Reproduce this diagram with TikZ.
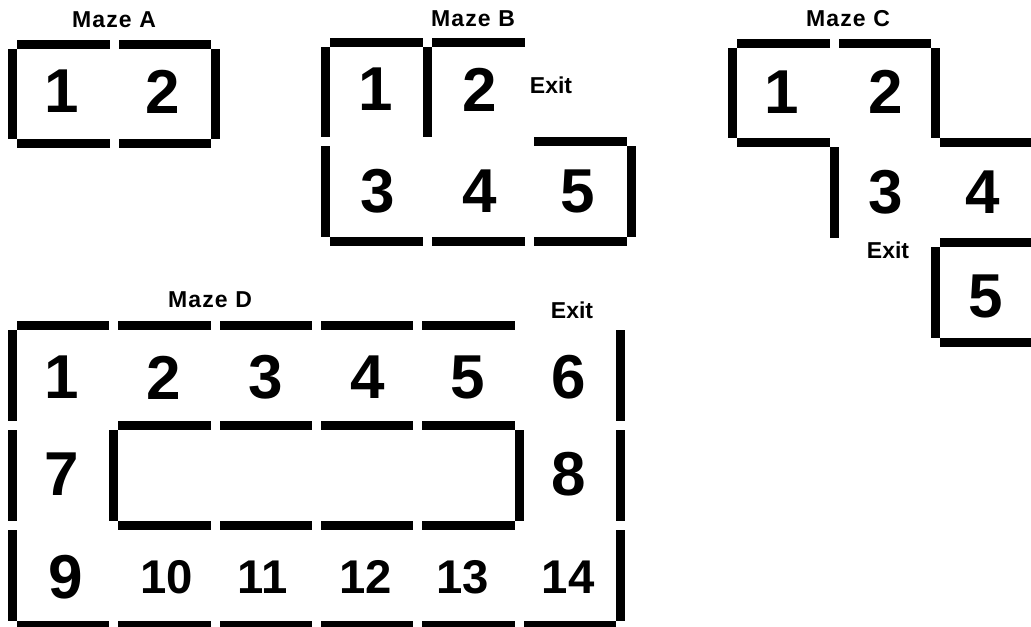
\documentclass[tikz,border=0pt]{standalone}
\usepackage{fontspec}
\setmainfont{Liberation Sans}
\newfontfamily\labfont[LetterSpace=5]{Liberation Sans}
\newcommand\hw[3]{\fill[wall] ({#1+9},{#3}) rectangle ({#2},{#3+9});}
\newcommand\vw[3]{\fill[wall] ({#1},{#2+9}) rectangle ({#1+9},{#3});}
\tikzset{
  wall/.style={fill=black},
  big/.style={font=\fontsize{46.5}{46.5}\selectfont\bfseries, inner sep=0pt, anchor=center},
  mid/.style={font=\fontsize{35.5}{35.5}\selectfont\bfseries, inner sep=0pt, anchor=center},
  lab/.style={font=\labfont\fontsize{17.25}{17.25}\selectfont\bfseries, inner sep=0pt, anchor=center},
  exitlab/.style={font=\fontsize{17.25}{17.25}\selectfont\bfseries, inner sep=0pt, anchor=center}
}
\begin{document}
\begin{tikzpicture}[x=0.75pt,y=-0.75pt]
\path[use as bounding box] (0,0) rectangle (1031,627);
\clip (0,0) rectangle (1031,627);
\fill[white] (0,0) rectangle (1031,627);
% ---------------- Maze A
\hw{8}{109.5}{40} \hw{109.5}{211}{40}
\hw{8}{109.5}{139} \hw{109.5}{211}{139}
\vw{8}{40}{139} \vw{211}{40}{139}
\node[lab] (la) at (114,20) {Maze A};
\node[big] (a1) at (62,91.5) {1};
\node[big] (a2) at (163,91.5) {2};
% ---------------- Maze B
\hw{321}{423}{38} \hw{423}{525}{38}
\vw{321}{38}{137.5} \vw{423}{38}{137.5}
\hw{525}{627}{137.5}
\vw{321}{137.5}{237} \vw{627}{137.5}{237}
\hw{321}{423}{237} \hw{423}{525}{237} \hw{525}{627}{237}
\node[lab] (lb) at (473,19) {Maze B};
\node[exitlab] (eb) at (551,85) {Exit};
\node[big] (b1) at (376,89.5) {1};
\node[big] (b2) at (480,89.5) {2};
\node[big] (b3) at (378,191.5) {3};
\node[big] (b4) at (480,191.5) {4};
\node[big] (b5) at (578,191.5) {5};
% ---------------- Maze C
\hw{728}{829.5}{39} \hw{829.5}{931}{39}
\vw{728}{39}{138.5} \vw{931}{39}{138.5}
\hw{728}{829.5}{138.5} \hw{931}{1032.5}{138.5}
\vw{829.5}{138.5}{238}
\hw{931}{1032.5}{238}
\vw{931}{238}{338}
\hw{931}{1032.5}{338}
\node[lab] (lc) at (848,19) {Maze C};
\node[exitlab] (ec) at (888,250) {Exit};
\node[big] (c1) at (782,92) {1};
\node[big] (c2) at (886,92) {2};
\node[big] (c3) at (886,192.5) {3};
\node[big] (c4) at (983,192.5) {4};
\node[big] (c5) at (986,296) {5};
% ---------------- Maze D
\foreach \i in {0,...,4} {\hw{8+101.333*\i}{8+101.333*(\i+1)}{321}}
\foreach \i in {0,...,5} {\hw{8+101.333*\i}{8+101.333*(\i+1)}{621}}
\foreach \i in {1,...,4} {\hw{8+101.333*\i}{8+101.333*(\i+1)}{421}
                          \hw{8+101.333*\i}{8+101.333*(\i+1)}{521}}
\foreach \r in {0,1,2} {\vw{8}{321+100*\r}{421+100*\r} \vw{616}{321+100*\r}{421+100*\r}}
\vw{109.333}{421}{521} \vw{514.667}{421}{521}
\node[lab] (ld) at (210,300) {Maze D};
\node[exitlab] (ed) at (572,310) {Exit};
\node[big] (d1) at (62,377.5) {1};
\node[big] (d2) at (164,377.5) {2};
\node[big] (d3) at (266,377.5) {3};
\node[big] (d4) at (368,377.5) {4};
\node[big] (d5) at (468,377.5) {5};
\node[big] (d6) at (569,377.5) {6};
\node[big] (d7) at (62,474) {7};
\node[big] (d8) at (569,474) {8};
\node[big] (d9) at (66,577) {9};
\node[mid] (d10) at (167,577) {10};
\node[mid] (d11) at (263,577) {11};
\node[mid] (d12) at (366,577) {12};
\node[mid] (d13) at (463,577) {13};
\node[mid] (d14) at (568,577) {14};
\end{tikzpicture}
\end{document}
